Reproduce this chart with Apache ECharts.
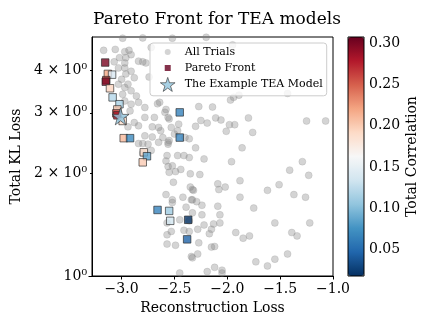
<!DOCTYPE html>
<html lang="en">
<head>
<meta charset="UTF-8">
<title>Pareto Front for TEA models</title>
<script src="https://cdn.jsdelivr.net/npm/echarts@6/dist/echarts.min.js"></script>
</head>
<body style="margin:0">
<div id="main" style="width:430px;height:331px;"></div>
<script>
// [reconstruction loss, total KL loss]
const allTrials = [
    [-3.09,5.05],[-2.99,4.96],[-2.90,5.04],[-2.80,4.97],[-2.72,5.05],[-2.63,5.03],[-2.52,4.96],[-2.39,5.04],[-2.29,5.03],[-2.20,4.99],
    [-3.17,4.57],[-3.06,4.60],[-2.97,4.53],[-2.93,4.57],[-2.91,4.44],[-2.96,4.35],[-3.02,4.35],[-3.07,4.23],[-2.97,4.20],[-2.84,4.25],
    [-2.80,4.23],[-2.77,4.20],[-3.03,4.06],[-2.97,4.06],[-2.96,3.90],[-2.91,3.97],[-2.88,3.80],[-3.00,3.76],[-3.03,3.64],[-2.97,3.56],
    [-2.94,3.64],[-2.91,3.48],[-2.99,3.40],[-2.86,3.36],[-2.97,3.25],[-2.91,3.18],[-2.84,3.22],[-2.78,3.11],[-2.92,3.04],[-2.64,3.22],
    [-2.58,3.07],[-2.69,2.91],[-2.78,2.91],[-2.88,2.81],[-2.84,2.75],[-2.94,2.73],[-2.65,2.72],[-2.56,2.91],[-2.46,2.78],[-2.53,2.72],
    [-2.61,2.54],[-2.50,2.60],[-2.78,2.57],[-2.84,2.44],[-2.75,2.43],[-2.56,2.43],[-2.40,2.54],
    [-2.66,3.19],[-2.59,3.01],[-2.55,2.88],[-2.47,2.66],[-2.63,2.66],[-2.55,2.49],[-2.71,2.55],[-2.71,2.73],
    [-2.72,4.66],[-2.74,3.82],[-1.95,4.74],
    [-1.97,3.27],[-1.94,3.33],[-1.89,3.38],[-1.43,3.42],[-2.27,3.13],[-2.14,3.12],[-2.11,2.90],[-2.06,2.86],[-2.25,2.85],[-2.19,2.80],
    [-2.30,2.74],[-1.98,2.77],[-1.93,2.77],[-1.80,2.90],[-1.25,2.84],[-1.07,2.84],[-2.01,2.65],[-1.76,2.63],[-1.86,2.37],[-2.30,2.37],
    [-2.36,2.52],[-2.22,2.20],[-2.35,1.99],[-2.26,1.98],[-2.33,1.79],[-2.33,1.67],[-2.29,1.65],[-2.24,1.61],[-2.33,1.53],[-2.24,1.51],
    [-2.36,1.45],[-2.22,1.41],[-2.28,1.37],[-2.17,1.33],[-2.27,1.25],[-2.33,1.13],[-2.28,1.16],[-2.19,1.03],
    [-1.96,2.16],[-1.29,2.16],[-1.41,2.04],[-1.23,1.97],[-1.88,1.90],[-2.09,1.86],[-2.08,1.79],[-2.02,1.82],[-1.62,1.78],[-1.51,1.85],
    [-1.37,1.73],[-1.26,1.70],[-1.88,1.70],[-2.09,1.60],[-1.75,1.58],[-2.07,1.51],[-2.07,1.43],[-2.13,1.42],[-2.15,1.37],[-1.55,1.43],
    [-1.22,1.43],[-1.92,1.34],[-1.85,1.29],[-1.79,1.31],[-1.39,1.34],[-1.34,1.31],[-2.12,1.22],[-2.15,1.215],[-1.43,1.16],[-1.55,1.12],
    [-1.73,1.10],[-1.62,1.07],[-2.12,1.06],[-2.05,1.04],[-2.05,1.02],
    [-2.80,2.44],[-2.72,2.33],[-2.80,2.29],[-2.65,2.46],[-2.56,2.46],[-2.57,2.25],[-2.47,2.25],[-2.41,2.25],[-2.36,2.22],[-2.58,2.17],
    [-2.56,2.09],[-2.52,2.10],[-2.44,2.05],[-2.55,2.01],[-2.49,2.02],[-2.51,1.88],[-2.35,1.82],[-2.32,1.78],[-2.58,1.73],[-2.52,1.67],
    [-2.42,1.70],[-2.52,1.64],[-2.34,1.67],[-2.39,1.59],[-2.45,1.46],[-2.57,1.43],[-2.41,1.36],[-2.36,1.35],[-2.53,1.35],[-2.57,1.32],
    [-2.57,1.24],[-2.49,1.23],[-2.45,1.02],[-2.34,1.14]
];

// [reconstruction loss, total KL loss, total correlation]
const paretoFront = [
    [-3.155,4.21,0.30],[-3.13,3.90,0.22],[-3.09,3.88,0.14],[-3.145,3.74,0.26],[-3.15,3.70,0.30],
    [-3.11,3.54,0.195],[-3.085,3.33,0.12],[-3.02,3.18,0.115],[-3.04,3.07,0.20],[-3.05,2.99,0.26],
    [-3.04,2.95,0.28],[-2.99,2.84,0.19],[-2.98,2.53,0.21],[-2.92,2.53,0.07],[-2.45,3.01,0.065],
    [-2.45,2.54,0.065],[-2.79,2.30,0.19],[-2.76,2.24,0.085],[-2.80,2.15,0.20],[-2.66,1.56,0.065],
    [-2.55,1.55,0.11],[-2.54,1.45,0.135],[-2.37,1.46,0.02],[-2.38,1.28,0.045]
];

const exampleModel = [[-3.01, 2.93]];

const xTicks = [-3.0, -2.5, -2.0, -1.5, -1.0];
const yTicks = [1, 2, 3, 4];
const yMinorTicks = [2, 3, 4];
const corrTicks = [0.05, 0.10, 0.15, 0.20, 0.25, 0.30];

// RdBu reversed
const rdbuR = ['#053061','#2166ac','#4393c3','#92c5de','#d1e5f0','#f7f7f7','#fddbc7','#f4a582','#d6604d','#b2182b','#67001f'];

const font = 'DejaVu Serif';
const star = 'path://M50,2L61.8,38.2L99.5,38.2L69,60.5L80.6,96.5L50,74L19.4,96.5L31,60.5L0.5,38.2L38.2,38.2Z';
// padded icons so the legend draws them smaller than the star
const dotIcon = 'path://M0,0M14,14M7,4A3,3,0,1,1,6.99,4Z';
const squareIcon = 'path://M0,0M14,14M4,4H10V10H4Z';

const grayColor = 'rgba(128,128,128,0.42)';

let myChart = echarts.init(document.getElementById('main'));

let options = {
    animation: false,
    textStyle: { fontFamily: font, color: '#000' },
    title: {
        text: 'Pareto Front for TEA models',
        left: 212, top: 6, textAlign: 'center',
        textStyle: { fontFamily: font, fontSize: 17, fontWeight: 'normal', color: '#000' }
    },
    legend: {
        orient: 'vertical',
        left: 150, top: 43,
        padding: [2, 4, 4, 10],
        itemWidth: 26, itemHeight: 14, itemGap: 2,
        selectedMode: false,
        backgroundColor: 'rgba(255,255,255,0.8)',
        borderColor: '#ccc', borderWidth: 1, borderRadius: 3,
        textStyle: { fontFamily: font, fontSize: 11, color: '#000', padding: [0, 0, 0, -1] },
        data: [
            { name: 'All Trials', icon: dotIcon, itemStyle: { color: grayColor, borderWidth: 0 } },
            { name: 'Pareto Front', icon: squareIcon, itemStyle: { color: '#67001f', borderWidth: 0 } },
            { name: 'The Example TEA Model', icon: star, itemStyle: { color: '#92c5de', borderColor: '#333', borderWidth: 0.8 } }
        ]
    },
    grid: [
        { left: 92, right: 97, top: 37, bottom: 55, show: true, borderColor: '#000', borderWidth: 1, backgroundColor: 'transparent' },
        { left: 348, width: 16, top: 37, height: 239, show: true, borderColor: '#000', borderWidth: 1, backgroundColor: 'transparent', z: 10 }
    ],
    xAxis: [
        {
            type: 'value', gridIndex: 0, min: -3.28, max: -1.0,
            name: 'Reconstruction Loss', nameLocation: 'middle', nameGap: 22,
            nameTextStyle: { fontFamily: font, fontSize: 14, color: '#000' },
            axisLine: { lineStyle: { color: '#000' } },
            axisTick: { customValues: xTicks, length: 3.5, lineStyle: { color: '#000' } },
            axisLabel: {
                customValues: xTicks, margin: 6, fontSize: 14, color: '#000', fontFamily: font,
                formatter: v => v.toFixed(1).replace('-', '\u2212')
            },
            splitLine: { show: false }
        },
        { type: 'value', gridIndex: 1, show: false, min: 0, max: 1 }
    ],
    yAxis: [
        {
            type: 'log', gridIndex: 0, min: 1, max: 5, position: 'left',
            name: 'Total KL Loss', nameLocation: 'middle', nameGap: 62, nameRotate: 90,
            nameTextStyle: { fontFamily: font, fontSize: 14, color: '#000' },
            axisLine: { show: true, lineStyle: { color: '#000' } },
            axisTick: { customValues: [1], length: 3.5, lineStyle: { color: '#000' } },
            axisLabel: {
                customValues: yTicks, margin: 5, fontSize: 14, color: '#000', fontFamily: font,
                formatter: v => (v === 1 ? '10\u2070' : v + ' \u00d7 10\u2070')
            },
            splitLine: { show: false }
        },
        {
            type: 'log', gridIndex: 0, min: 1, max: 5, position: 'left',
            axisLine: { show: false },
            axisTick: { customValues: yMinorTicks, length: 2, lineStyle: { color: '#000' } },
            axisLabel: { show: false },
            splitLine: { show: false }
        },
        {
            type: 'value', gridIndex: 1, min: 0.0177, max: 0.3076, position: 'right',
            name: 'Total Correlation', nameLocation: 'middle', nameGap: 41, nameRotate: 90,
            nameTextStyle: { fontFamily: font, fontSize: 14, color: '#000' },
            axisLine: { show: false },
            axisTick: { customValues: corrTicks, length: 3.5, lineStyle: { color: '#000' } },
            axisLabel: {
                customValues: corrTicks, margin: 5, fontSize: 14, color: '#000', fontFamily: font,
                formatter: v => v.toFixed(2)
            },
            splitLine: { show: false }
        }
    ],
    visualMap: {
        type: 'continuous',
        seriesIndex: 1, dimension: 2,
        min: 0.0177, max: 0.3076,
        left: 348, top: 37,
        itemWidth: 16, itemHeight: 239,
        padding: 0,
        calculable: false, hoverLink: false,
        inRange: { color: rdbuR }
    },
    series: [
        {
            name: 'All Trials', type: 'scatter', xAxisIndex: 0, yAxisIndex: 0,
            data: allTrials, symbolSize: 7, silent: true,
            itemStyle: { color: grayColor, borderColor: 'rgba(128,128,128,0.25)', borderWidth: 1 }
        },
        {
            name: 'Pareto Front', type: 'scatter', xAxisIndex: 0, yAxisIndex: 0,
            data: paretoFront, symbol: 'rect', symbolSize: 7.5, silent: true,
            itemStyle: { borderColor: '#222', borderWidth: 0.8 }
        },
        {
            name: 'The Example TEA Model', type: 'scatter', xAxisIndex: 0, yAxisIndex: 0,
            data: exampleModel, symbol: star, symbolSize: 17, silent: true,
            itemStyle: { color: '#92c5de', borderColor: '#333', borderWidth: 0.8 }
        }
    ]
};

myChart.setOption(options);
</script>
</body>
</html>
